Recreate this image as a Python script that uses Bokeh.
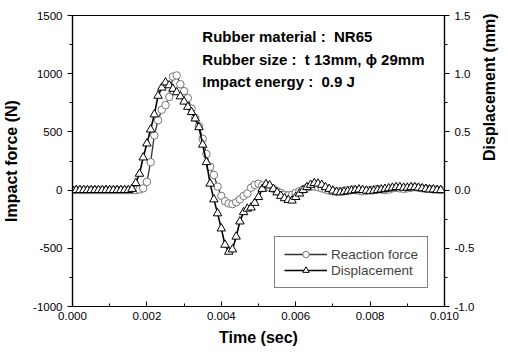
import math
from bokeh.plotting import figure
from bokeh.models import Range1d, LinearAxis, FixedTicker, Label, Legend, LegendItem
from bokeh.embed import file_html
from bokeh.resources import INLINE

# time in sec (step 0.0001 s)
time = [round(i * 0.0001, 4) for i in range(100)]

# Reaction force (N)
force = [0, 0, 0, 0, 0, 0, 0, 0, 0, 0,
         0, 0, 0, 0, 0, 0, 0, 0, 5, 15,
         70, 240, 470, 600, 690, 730, 800, 975, 985, 910,
         850, 790, 700, 620, 550, 440, 310, 200, 130, 30,
         -50, -95, -115, -120, -105, -80, -50, -30, 20, 45,
         55, 40, 30, 20, 10, -10, -25, -40, -45, -40,
         -25, -10, 5, 20, 30, 30, 25, 15, 5, -5,
         -10, -15, -10, -5, 0, 5, 0, -5, -10, -5,
         0, 5, 10, 5, 0, 5, 15, 20, 15, 10,
         15, 20, 25, 20, 15, 10, 10, 5, 5, 0]

# Displacement (mm)
disp = [0, 0, 0, 0, 0, 0, 0, 0, 0, 0,
        0, 0, 0, 0, 0, 0, 0.01, 0.06, 0.14, 0.28,
        0.40, 0.52, 0.65, 0.81, 0.88, 0.925, 0.90, 0.87, 0.84, 0.805,
        0.76, 0.715, 0.67, 0.615, 0.54, 0.39, 0.24, 0.055, -0.08, -0.20,
        -0.33, -0.47, -0.53, -0.51, -0.40, -0.27, -0.19, -0.16, -0.15, -0.11,
        -0.06, 0.01, 0.05, 0.04, 0.01, -0.02, -0.05, -0.07, -0.085, -0.09,
        -0.06, -0.03, 0.0, 0.025, 0.045, 0.06, 0.055, 0.045, 0.025, 0.01,
        -0.005, -0.015, -0.02, -0.015, -0.01, -0.005, 0.0, 0.005, 0.0, -0.005,
        -0.01, -0.005, 0.0, 0.005, 0.01, 0.015, 0.02, 0.025, 0.025, 0.02,
        0.02, 0.025, 0.025, 0.02, 0.015, 0.01, 0.005, 0.005, 0.0, 0.0]

x_ticks = [0.0, 0.002, 0.004, 0.006, 0.008, 0.010]
x_tick_labels = ["0.000", "0.002", "0.004", "0.006", "0.008", "0.010"]
y_ticks = [-1000, -500, 0, 500, 1000, 1500]
y_tick_labels = ["-1000", "-500", "0", "500", "1000", "1500"]
y2_ticks = [-1.0, -0.5, 0.0, 0.5, 1.0, 1.5]
y2_tick_labels = ["-1.0", "-0.5", "0.0", "0.5", "1.0", "1.5"]

NB = "\u00a0"
notes = ["Rubber material :" + NB + NB + "NR65",
         "Rubber size :" + NB + NB + "t 13mm, \u03d5 29mm",
         "Impact energy :" + NB + NB + "0.9 J"]
note_y = [1323, 1125, 936]

FONT = "Liberation Sans"

p = figure(frame_width=372, frame_height=291, output_backend="svg", toolbar_location=None,
           x_range=Range1d(0, 0.010), y_range=Range1d(-1000, 1500),
           min_border_left=71, min_border_right=65, min_border_top=15, min_border_bottom=46)
p.extra_y_ranges = {"disp": Range1d(-1.0, 1.5)}
p.grid.visible = False
p.outline_line_color = "black"
p.outline_line_width = 1.2
p.background_fill_color = "white"
p.border_fill_color = "white"

# x axis
xa = p.xaxis[0]
xa.ticker = FixedTicker(ticks=x_ticks, minor_ticks=[0.001, 0.003, 0.005, 0.007, 0.009])
xa.major_label_overrides = dict(zip(x_ticks, x_tick_labels))
xa.major_tick_in = 5
xa.major_tick_out = 0
xa.minor_tick_in = 3
xa.minor_tick_out = 0
xa.axis_label = "Time (sec)"

# left y axis
ya = p.yaxis[0]
ya.ticker = FixedTicker(ticks=y_ticks, minor_ticks=[-750, -250, 250, 750, 1250])
ya.major_label_overrides = dict(zip(y_ticks, y_tick_labels))
ya.major_tick_in = 0
ya.major_tick_out = 5
ya.minor_tick_in = 0
ya.minor_tick_out = 3
ya.axis_label = "Impact force (N)"

# right y axis
ra = LinearAxis(y_range_name="disp",
                ticker=FixedTicker(ticks=y2_ticks, minor_ticks=[-0.75, -0.25, 0.25, 0.75, 1.25]),
                axis_label="Displacement (mm)")
ra.major_label_overrides = dict(zip(y2_ticks, y2_tick_labels))
ra.major_tick_in = 0
ra.major_tick_out = 5
ra.minor_tick_in = 0
ra.minor_tick_out = 3
ra.axis_label_orientation = math.pi / 2
p.add_layout(ra, "right")

for ax in [xa, ya, ra]:
    ax.axis_line_color = "black"
    ax.axis_line_width = 1.2
    ax.major_tick_line_color = "black"
    ax.minor_tick_line_color = "black"
    ax.major_label_text_font = FONT
    ax.major_label_text_font_size = "11.5px"
    ax.major_label_text_color = "black"
    ax.axis_label_text_font = FONT
    ax.axis_label_text_font_style = "bold"
    ax.axis_label_text_font_size = "16px"
    ax.axis_label_text_color = "black"
xa.axis_label_standoff = 6
ya.axis_label_standoff = 10
ra.axis_label_standoff = 12

# series
l1 = p.line(time, force, line_color="#333333", line_width=1.3)
s1 = p.scatter(time, force, marker="circle", size=7.5, fill_color="white",
               line_color="#777777", line_width=1)
l2 = p.line(time, disp, y_range_name="disp", line_color="black", line_width=1.6)
s2 = p.scatter(time, disp, y_range_name="disp", marker="triangle", size=8.5,
               fill_color="white", line_color="black", line_width=1)

legend = Legend(items=[LegendItem(label="Reaction force", renderers=[l1, s1]),
                       LegendItem(label="Displacement", renderers=[l2, s2])],
                location=(202, 18))
legend.label_text_font = FONT
legend.label_text_font_size = "13.5px"
legend.border_line_color = "black"
legend.border_line_width = 1.2
legend.glyph_width = 43
legend.glyph_height = 16
legend.label_height = 16
legend.label_standoff = 4
legend.spacing = 0
legend.padding = 9
legend.margin = 0
legend.background_fill_alpha = 1
p.add_layout(legend)

for txt, yv in zip(notes, note_y):
    p.add_layout(Label(x=0.00349, y=yv, text=txt, text_font=FONT, text_font_style="bold",
                       text_font_size="15px", text_baseline="middle", text_color="black"))

open("out.html", "w").write(file_html(p, INLINE))
